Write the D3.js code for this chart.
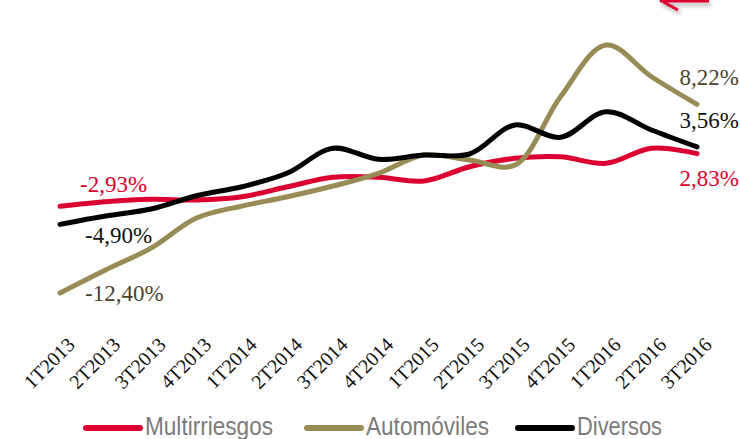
<!DOCTYPE html>
<html lang="es">
  <head>
    <meta charset="utf-8">
    <title>Evolución por ramos</title>
    <script src="https://d3js.org/d3.v7.min.js"></script>
    <style>
      html, body { margin: 0; padding: 0; background: #fff; }
      svg { display: block; }
      .tick-label { font: 20px "Liberation Serif", serif; fill: #111; }
      .value-label { font: 23px "Liberation Serif", serif; }
      .legend-label { font: 25px "Liberation Sans", sans-serif; fill: #7b7b7b; }
    </style>
  </head>
  <body>
    <svg width="740" height="439"></svg>
    <script>

      // quarters on the x axis
      var quarters = ["1T2013", "2T2013", "3T2013", "4T2013",
                      "1T2014", "2T2014", "3T2014", "4T2014",
                      "1T2015", "2T2015", "3T2015", "4T2015",
                      "1T2016", "2T2016", "3T2016"];

      // year-on-year growth, %
      var multirriesgos = [-2.93, -2.43, -2.16, -2.24, -1.88, -0.79, 0.24, 0.24,
                           -0.16, 1.40, 2.32, 2.49, 1.77, 3.41, 2.83];
      var automoviles   = [-12.40, -9.89, -7.49, -4.21, -2.90, -1.88, -0.71, 0.68,
                           2.68, 2.13, 1.58, 9.05, 14.70, 11.23, 8.22];
      var diversos      = [-4.90, -3.99, -3.22, -1.77, -0.79, 0.71, 3.41, 2.21,
                           2.68, 2.79, 5.96, 4.61, 7.41, 5.41, 3.56];

      var seriesNames  = ["Multirriesgos", "Automóviles", "Diversos"];
      var seriesColors = ["#dc0030", "#978c55", "#000000"];
      var labelColors  = ["#dc0030", "#4a4530", "#111111"];

      var series = [multirriesgos, automoviles, diversos].map(function(values, i) {
        return { name: seriesNames[i], values: values, color: seriesColors[i], labelColor: labelColors[i] };
      });

      var svg = d3.select("svg");

      var x = d3.scalePoint()
          .domain(quarters)
          .range([60, 697]);

      var all = d3.merge(series.map(function(s) { return s.values; }));
      var y = d3.scaleLinear()
          .domain(d3.extent(all))
          .range([293, 45]);

      var fmt = function(v) { return d3.format(".2f")(v).replace("−", "-").replace(".", ",") + "%"; };

      // small red arrow cut at the top edge
      var defs = svg.append("defs");
      var shadow = defs.append("filter").attr("id", "shadow")
          .attr("x", "-20%").attr("y", "-50%").attr("width", "140%").attr("height", "300%");
      shadow.append("feDropShadow")
          .attr("dx", 2).attr("dy", 3).attr("stdDeviation", 2)
          .attr("flood-color", "#000").attr("flood-opacity", 0.35);

      svg.append("path")
          .attr("d", "M709,1 L660,1 M660,0 L678,10")
          .attr("fill", "none")
          .attr("stroke", "#dc0030")
          .attr("stroke-width", 3)
          .attr("filter", "url(#shadow)");

      // x labels
      svg.append("g")
        .selectAll("text")
        .data(quarters)
        .enter().append("text")
          .attr("class", "tick-label")
          .attr("text-anchor", "end")
          .attr("transform", function(d) { return "translate(" + (x(d) + 16) + ",346) rotate(-45)"; })
          .text(function(d) { return d; });

      var line = d3.line()
          .x(function(d, i) { return x(quarters[i]); })
          .y(function(d) { return y(d); })
          .curve(d3.curveCatmullRom.alpha(0.5));

      svg.append("g")
        .selectAll("path")
        .data(series)
        .enter().append("path")
          .attr("fill", "none")
          .attr("stroke", function(d) { return d.color; })
          .attr("stroke-width", 5)
          .attr("stroke-linecap", "round")
          .attr("stroke-linejoin", "round")
          .attr("d", function(d) { return line(d.values); });

      // first / last values
      var firstOffsets = [[20, -14], [25, 8], [25, 19]];
      var lastOffsets  = [[42, 32], [42, -19], [42, -19]];
      var last = quarters.length - 1;

      series.forEach(function(s, i) {
        svg.append("text")
            .attr("class", "value-label")
            .attr("fill", s.labelColor)
            .attr("x", x(quarters[0]) + firstOffsets[i][0])
            .attr("y", y(s.values[0]) + firstOffsets[i][1])
            .text(fmt(s.values[0]));

        svg.append("text")
            .attr("class", "value-label")
            .attr("fill", s.labelColor)
            .attr("text-anchor", "end")
            .attr("x", x(quarters[last]) + lastOffsets[i][0])
            .attr("y", y(s.values[last]) + lastOffsets[i][1])
            .text(fmt(s.values[last]));
      });

      // legend
      var legendX = [86, 307, 518];
      var legendW = [128, 123, 85];
      var legend = svg.append("g")
        .selectAll("g")
        .data(series)
        .enter().append("g")
          .attr("transform", function(d, i) { return "translate(" + legendX[i] + ",428)"; });

      legend.append("line")
          .attr("x1", 0).attr("x2", 54)
          .attr("stroke", function(d) { return d.color; })
          .attr("stroke-width", 6)
          .attr("stroke-linecap", "round");

      legend.append("text")
          .attr("class", "legend-label")
          .attr("x", 59)
          .attr("y", 7)
          .attr("textLength", function(d, i) { return legendW[i]; })
          .attr("lengthAdjust", "spacingAndGlyphs")
          .text(function(d) { return d.name; });

    </script>
  </body>
</html>
